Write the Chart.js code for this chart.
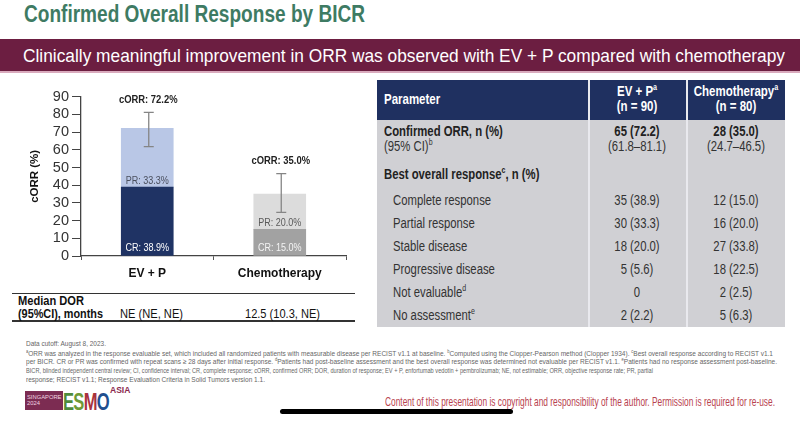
<!DOCTYPE html>
<html>
<head>
<meta charset="utf-8">
<script src="https://cdn.jsdelivr.net/npm/chart.js@4.4.1/dist/chart.umd.min.js"></script>
<style>
  html,body{margin:0;padding:0;background:#fff;}
  body{width:800px;height:422px;overflow:hidden;position:relative;
       font-family:'Liberation Sans',Arial,sans-serif;}
  .abs{position:absolute;white-space:nowrap;}
  .fit{transform-origin:0 50%;}
  .nl{transform:scaleX(0.82);transform-origin:0 50%;}
  .nc{transform:scaleX(0.82);transform-origin:50% 50%;}
  #title{left:24px;top:3px;font-weight:bold;font-size:23px;line-height:23px;color:#3e7b63;}
  #banner{left:0;top:39px;width:800px;height:32px;background:#6c1e41;border-bottom:2px solid #d9aabd;}
  #bannerText{left:23px;top:46px;color:#fff;font-size:19px;line-height:20px;}
  #chartBox{position:absolute;left:0;top:80px;width:360px;height:210px;}
  .dorline{position:absolute;left:12px;width:343px;height:1.5px;background:#333;}
  .dor{font-size:13.5px;line-height:16px;color:#111;}
  #tbl{position:absolute;left:377px;top:80px;width:408px;height:247px;}
  #thead{position:absolute;left:0;top:0;width:408px;height:40px;background:#1f3060;}
  #tbody{position:absolute;left:0;top:40px;width:408px;height:207px;background:#d0d0d4;}
  .vline{position:absolute;top:0;width:1.5px;height:247px;background:#e9e9ee;}
  .th{color:#fff;font-weight:bold;font-size:14px;line-height:15px;}
  .cell{font-size:13.8px;line-height:16px;color:#333;}
  sup{font-size:62%;line-height:0;vertical-align:super;}
  .foot{left:26px;font-size:7.4px;line-height:8px;color:#666;}
  #copy{left:385px;top:395px;font-size:13px;line-height:14px;color:#b8434f;}
  #scrollbar{position:absolute;left:280px;top:409px;width:233px;height:5px;border-radius:3px;background:#000;}
  #logoBox{position:absolute;left:25px;top:391px;width:38px;height:19px;background:#7c2c52;color:#f1d3e0;font-size:5.8px;line-height:6.6px;padding:2.5px 0 0 2px;box-sizing:border-box;}
  #esmo{left:63px;top:390px;font-weight:900;font-size:24px;line-height:24px;letter-spacing:-1px;}
  #asia{left:110px;top:386px;font-weight:bold;font-size:8.5px;line-height:9px;color:#8b2a4e;}
</style>
</head>
<body>
<div id="title" class="abs fit" data-w="341">Confirmed Overall Response by BICR</div>
<div id="banner" class="abs"></div>
<div id="bannerText" class="abs fit" data-w="762">Clinically meaningful improvement in ORR was observed with EV + P compared with chemotherapy</div>

<div id="chartBox"><canvas id="c" width="360" height="210"></canvas></div>

<div class="dorline" style="top:292.5px"></div>
<div class="dorline" style="top:320px"></div>
<div id="dorBlock"></div>

<div id="tbl">
  <div id="thead"></div>
  <div id="tbody"></div>
  <div class="vline" style="left:211px"></div>
  <div class="vline" style="left:309px"></div>
  <div id="tcells"></div>
</div>

<div class="abs foot fit" style="top:340px" data-w="80">Data cutoff: August 8, 2023.</div>
<div class="abs foot fit" style="top:349.7px" data-w="747"><sup>a</sup>ORR was analyzed in the response evaluable set, which included all randomized patients with measurable disease per RECIST v1.1 at baseline. <sup>b</sup>Computed using the Clopper-Pearson method (Clopper 1934). <sup>c</sup>Best overall response according to RECIST v1.1</div>
<div class="abs foot fit" style="top:358.3px" data-w="751">per BICR. CR or PR was confirmed with repeat scans ≥ 28 days after initial response. <sup>d</sup>Patients had post-baseline assessment and the best overall response was determined not evaluable per RECIST v1.1. <sup>e</sup>Patients had no response assessment post-baseline.</div>
<div class="abs foot fit" style="top:367.3px" data-w="627">BICR, blinded independent central review; CI, confidence interval; CR, complete response; cORR, confirmed ORR; DOR, duration of response; EV + P, enfortumab vedotin + pembrolizumab; NE, not estimable; ORR, objective response rate; PR, partial</div>
<div class="abs foot fit" style="top:376.3px" data-w="239">response; RECIST v1.1; Response Evaluation Criteria in Solid Tumors version 1.1.</div>

<div id="logoBox">SINGAPORE<br>2024</div>
<div id="esmo" class="abs fit" data-w="46"><span style="color:#4e8b3c">E</span><span style="color:#6f9a36">S</span><span style="color:#a8323e">M</span><span style="color:#1f4f8f">O</span></div>
<div id="asia" class="abs">ASIA</div>

<div id="copy" class="abs fit" data-w="390">Content of this presentation is copyright and responsibility of the author. Permission is required for re-use.</div>
<div id="scrollbar"></div>

<script>
// ---------- data ----------
const categories = ['EV + P', 'Chemotherapy'];
const crValues = [38.9, 15.0];
const prValues = [33.3, 20.0];
const corrValues = [72.2, 35.0];
const ciLow = [61.8, 24.7];
const ciHigh = [81.1, 46.5];
const yMin = 0, yMax = 90, yStep = 10;

const dorLabel = ['Median DOR', '(95%CI), months'];
const dorValues = ['NE (NE, NE)', '12.5 (10.3, NE)'];

const tableHeaders = ['Parameter', 'EV + P<sup>a</sup>', 'Chemotherapy<sup>a</sup>'];
const tableN = ['(n = 90)', '(n = 80)'];
const orrRow = ['Confirmed ORR, n (%)', '65 (72.2)', '28 (35.0)'];
const ciRow = ['(95% CI)<sup>b</sup>', '(61.8–81.1)', '(24.7–46.5)'];
const bestRow = 'Best overall response<sup>c</sup>, n (%)';
const tableParams = ['Complete response', 'Partial response', 'Stable disease', 'Progressive disease', 'Not evaluable<sup>d</sup>', 'No assessment<sup>e</sup>'];
const tableEV = ['35 (38.9)', '30 (33.3)', '18 (20.0)', '5 (5.6)', '0', '2 (2.2)'];
const tableChemo = ['12 (15.0)', '16 (20.0)', '27 (33.8)', '18 (22.5)', '2 (2.5)', '5 (6.3)'];

// ---------- colours / fonts ----------
const ARIAL = "'Liberation Sans',Arial,sans-serif";
const crColors = ['#1f3364', '#a2a2a2'];
const prColors = ['#b9c7e6', '#dcdcdc'];
const NARROW_SCALE = 0.82;

// ---------- DOR block ----------
(function(){
  const d = document.getElementById('dorBlock');
  const mk = (txt, x, y, bold, w) => {
    const e = document.createElement('div');
    e.className = 'abs dor fit'; e.style.left = x + 'px'; e.style.top = (y - 8) + 'px';
    e.dataset.w = w;
    if (bold) e.style.fontWeight = 'bold';
    e.innerHTML = txt; d.appendChild(e);
  };
  mk(dorLabel[0], 18, 300.5, true, 66);
  mk(dorLabel[1], 18, 314, true, 85);
  mk(dorValues[0], 120, 314, false, 63);
  mk(dorValues[1], 245, 314, false, 75);
})();

// ---------- table ----------
(function(){
  const t = document.getElementById('tcells');
  const colC = [null, 260, 358.5];
  const mk = (html, cls, x, yAbs, opts) => {
    const e = document.createElement('div');
    const y = yAbs - 80;
    e.style.top = (y - 8) + 'px';
    const center = opts && opts.center;
    e.className = 'abs ' + cls + (center ? ' nc' : ' nl');
    if (center) { e.style.left = (x - 70) + 'px'; e.style.width = '140px'; e.style.textAlign = 'center'; }
    else e.style.left = x + 'px';
    if (opts && opts.bold) e.style.fontWeight = 'bold';
    if (opts && opts.color) e.style.color = opts.color;
    e.innerHTML = html; t.appendChild(e);
  };
  // header
  mk(tableHeaders[0], 'th', 7, 100, {});
  mk(tableHeaders[1], 'th', colC[1], 92, {center:true});
  mk(tableN[0], 'th', colC[1], 107, {center:true});
  mk(tableHeaders[2], 'th', colC[2], 92, {center:true});
  mk(tableN[1], 'th', colC[2], 107, {center:true});
  // ORR rows
  mk(orrRow[0], 'cell', 7, 131.5, {bold:true, color:'#222'});
  mk(orrRow[1], 'cell', colC[1], 131.5, {center:true, bold:true, color:'#222'});
  mk(orrRow[2], 'cell', colC[2], 131.5, {center:true, bold:true, color:'#222'});
  mk(ciRow[0], 'cell', 7, 146.5, {});
  mk(ciRow[1], 'cell', colC[1], 146.5, {center:true});
  mk(ciRow[2], 'cell', colC[2], 146.5, {center:true});
  mk(bestRow, 'cell', 7, 175, {bold:true, color:'#222'});
  const rowY = [201, 224, 247, 270, 293, 316];
  tableParams.forEach((p, i) => {
    mk(p, 'cell', 16, rowY[i], {});
    mk(tableEV[i], 'cell', colC[1], rowY[i], {center:true});
    mk(tableChemo[i], 'cell', colC[2], rowY[i], {center:true});
  });
})();

// ---------- fit text widths ----------
function fitAll(){
  document.querySelectorAll('.fit').forEach(e => {
    const w = parseFloat(e.dataset.w);
    e.style.transform = 'none';
    const actual = e.getBoundingClientRect().width;
    if (actual > 0) e.style.transform = 'scaleX(' + (w / actual) + ')';
  });
}
fitAll();

// ---------- chart ----------
function narrowText(ctx, txt, x, y) {
  ctx.save();
  ctx.translate(x, y);
  ctx.scale(NARROW_SCALE, 1);
  ctx.fillText(txt, 0, 0);
  ctx.restore();
}

const overlay = {
  id: 'overlay',
  afterDatasetsDraw(chart) {
    const {ctx, scales: {x, y}} = chart;
    categories.forEach((c, i) => {
      const cx = x.getPixelForValue(i);
      const ex = cx + 1.5;
      const yl = y.getPixelForValue(ciLow[i]);
      const yh = y.getPixelForValue(ciHigh[i]);
      ctx.save();
      ctx.strokeStyle = '#858585';
      ctx.lineWidth = 1.3;
      ctx.beginPath();
      ctx.moveTo(ex, yl); ctx.lineTo(ex, yh);
      ctx.moveTo(ex - 5, yl); ctx.lineTo(ex + 5, yl);
      ctx.moveTo(ex - 5, yh); ctx.lineTo(ex + 5, yh);
      ctx.stroke();

      ctx.textAlign = 'center';
      ctx.textBaseline = 'middle';
      ctx.font = 'bold 11.5px ' + ARIAL;
      ctx.fillStyle = '#222';
      narrowText(ctx, 'cORR: ' + corrValues[i].toFixed(1) + '%', cx + 1, yh - 12.5);

      const yb = y.getPixelForValue(crValues[i]);
      ctx.font = '11px ' + ARIAL;
      ctx.fillStyle = i === 0 ? '#4a4f5e' : '#5a5a5a';
      narrowText(ctx, 'PR: ' + prValues[i].toFixed(1) + '%', cx, yb - 6.5);

      const y0 = y.getPixelForValue(0);
      ctx.fillStyle = i === 0 ? '#ffffff' : '#f4f4f4';
      narrowText(ctx, 'CR: ' + crValues[i].toFixed(1) + '%', cx, y0 - 8.5);
      ctx.restore();
    });
  }
};

new Chart(document.getElementById('c'), {
  type: 'bar',
  data: {
    labels: categories,
    datasets: [
      {label: 'CR', data: crValues, backgroundColor: crColors, barThickness: 52, borderWidth: 0},
      {label: 'PR', data: prValues, backgroundColor: prColors, barThickness: 52, borderWidth: 0}
    ]
  },
  options: {
    responsive: false,
    animation: false,
    events: [],
    layout: {padding: {left: 0, right: 14, top: 16.7, bottom: 0}},
    plugins: {legend: {display: false}, tooltip: {enabled: false}},
    scales: {
      x: {
        stacked: true,
        grid: {display: true, drawOnChartArea: false, tickLength: 4, color: '#555', offset: true},
        border: {color: '#444', width: 1.3},
        ticks: {font: {family: ARIAL, size: 12, weight: 'bold'}, color: '#111', padding: 6},
        afterFit: s => { s.height = 34; }
      },
      y: {
        stacked: true,
        min: yMin, max: yMax,
        ticks: {stepSize: yStep, autoSkip: false, font: {family: ARIAL, size: 14.5}, color: '#333', padding: 3},
        grid: {drawOnChartArea: false, tickLength: 9, color: '#444'},
        border: {color: '#444', width: 1.3},
        title: {display: true, text: 'cORR (%)', font: {family: ARIAL, size: 11.5, weight: 'bold'}, color: '#111', padding: {top: 28, bottom: 0}},
        afterFit: s => { s.width = 81; }
      }
    }
  },
  plugins: [overlay]
});
</script>
</body>
</html>
